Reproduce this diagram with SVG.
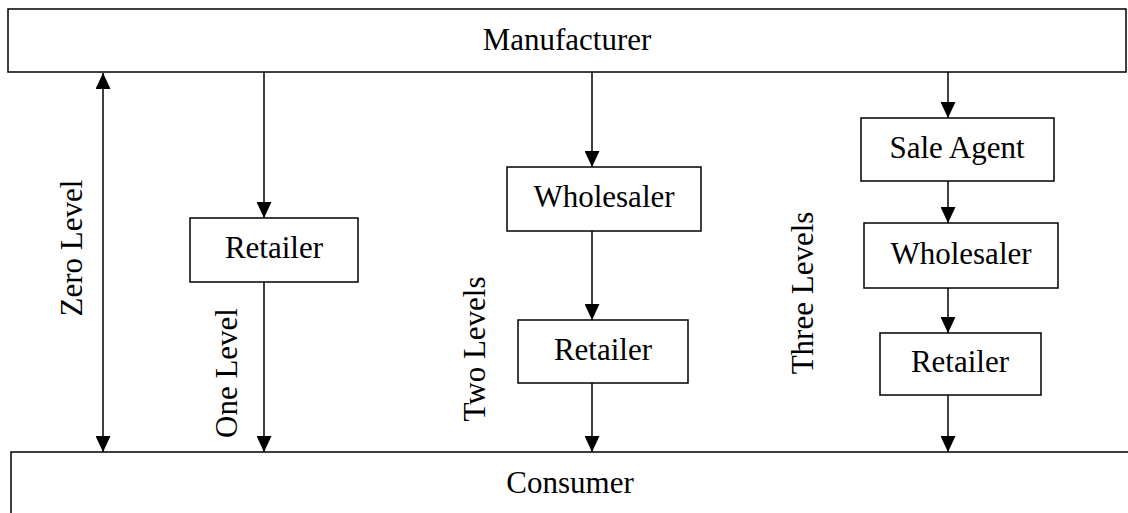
<svg xmlns="http://www.w3.org/2000/svg" width="1128" height="513" viewBox="0 0 1128 513">
<style>
.box{fill:#fff;stroke:#000;stroke-width:1.5}
.lbl{font-family:"Liberation Serif","Times New Roman",serif;font-size:31px;fill:#000;text-anchor:middle}
.con{stroke:#000;stroke-width:1.5;fill:none}
</style>
<defs>
<marker id="ah" viewBox="0 0 16 15" refX="16" refY="7.5" markerWidth="16" markerHeight="15" markerUnits="userSpaceOnUse" orient="auto-start-reverse">
<path d="M0,0 L16,7.5 L0,15 Z" fill="#000"/>
</marker>
</defs>
<rect width="1128" height="513" fill="#fff"/>
<g id="connectors">
<line class="con" x1="103" y1="73" x2="103" y2="452" marker-start="url(#ah)" marker-end="url(#ah)"/>
<line class="con" x1="264" y1="72" x2="264" y2="218" marker-end="url(#ah)"/>
<line class="con" x1="264" y1="282" x2="264" y2="452" marker-end="url(#ah)"/>
<line class="con" x1="592" y1="72" x2="592" y2="167" marker-end="url(#ah)"/>
<line class="con" x1="592" y1="231" x2="592" y2="320" marker-end="url(#ah)"/>
<line class="con" x1="592" y1="383" x2="592" y2="452" marker-end="url(#ah)"/>
<line class="con" x1="948" y1="72" x2="948" y2="118" marker-end="url(#ah)"/>
<line class="con" x1="948" y1="181" x2="948" y2="223" marker-end="url(#ah)"/>
<line class="con" x1="948" y1="288" x2="948" y2="333" marker-end="url(#ah)"/>
<line class="con" x1="948" y1="395" x2="948" y2="452" marker-end="url(#ah)"/>
</g>
<g id="manufacturer"><rect class="box" x="8" y="9" width="1118" height="63"/><text class="lbl" x="567" y="50">Manufacturer</text></g>
<g id="consumer"><rect class="box" x="11" y="452" width="1130" height="100"/><text class="lbl" x="570" y="493">Consumer</text></g>
<g id="retailer1"><rect class="box" x="190" y="218" width="168" height="64"/><text class="lbl" x="274" y="258">Retailer</text></g>
<g id="wholesaler2"><rect class="box" x="507" y="167" width="194" height="64"/><text class="lbl" x="604" y="207">Wholesaler</text></g>
<g id="retailer2"><rect class="box" x="518" y="320" width="170" height="63"/><text class="lbl" x="603" y="360">Retailer</text></g>
<g id="saleagent3"><rect class="box" x="861" y="118" width="193" height="63"/><text class="lbl" x="957" y="158">Sale Agent</text></g>
<g id="wholesaler3"><rect class="box" x="864" y="223" width="194" height="65"/><text class="lbl" x="961" y="264">Wholesaler</text></g>
<g id="retailer3"><rect class="box" x="880" y="333" width="161" height="62"/><text class="lbl" x="960" y="372">Retailer</text></g>
<g id="level-labels">
<text class="lbl" transform="translate(82,248) rotate(-90)">Zero Level</text>
<text class="lbl" transform="translate(237,373) rotate(-90)">One Level</text>
<text class="lbl" transform="translate(485,349) rotate(-90)">Two Levels</text>
<text class="lbl" transform="translate(813,293) rotate(-90)">Three Levels</text>
</g>
</svg>
